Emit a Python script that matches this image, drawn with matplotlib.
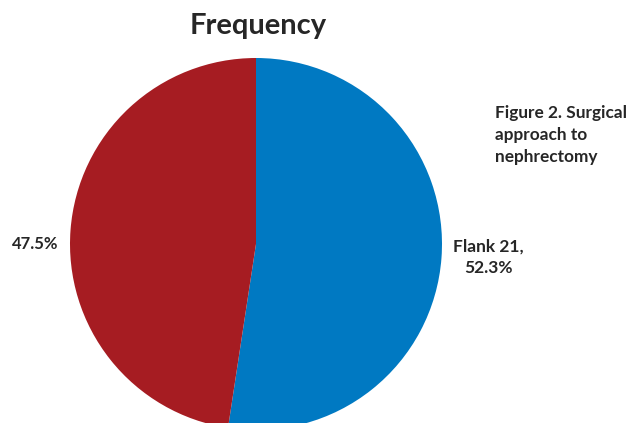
import matplotlib
matplotlib.use("Agg")
from matplotlib import pyplot as plt

# data
labels = ["Flank 21,\n52.3%", "47.5%"]
values = [52.3, 47.5]
colors = ["#0079C2", "#A61C22"]

W, H = 630, 423
fig = plt.figure(figsize=(W / 100, H / 100), dpi=100)
plt.rcParams['font.family'] = ['Lato', 'DejaVu Sans']

# pie area in pixels: center (256, 244), radius 186
cx, cy, r = 256, 244, 186
ax = fig.add_axes([(cx - r) / W, (H - cy - r) / H, 2 * r / W, 2 * r / H])
ax.pie(values, colors=colors, startangle=90, counterclock=False,
       wedgeprops=dict(linewidth=0))
ax.set_xlim(-1, 1)
ax.set_ylim(-1, 1)
ax.axis("off")

txt = "#262626"
fig.text(258 / W, 1 - 26 / H, "Frequency", ha="center", va="center",
         fontsize=21, fontweight="bold", color=txt)
fig.text(495 / W, 1 - 105 / H, "Figure 2. Surgical\napproach to\nnephrectomy",
         ha="left", va="top", fontsize=12.4, fontweight="bold", color=txt,
         linespacing=1.45)
fig.text(488 / W, 1 - 257 / H, labels[0], ha="center", va="center",
         fontsize=12.5, fontweight="bold", color=txt, linespacing=1.4)
fig.text(35 / W, 1 - 244 / H, labels[1], ha="center", va="center",
         fontsize=12, fontweight="bold", color=txt)

fig.savefig("out.png", dpi=100)
